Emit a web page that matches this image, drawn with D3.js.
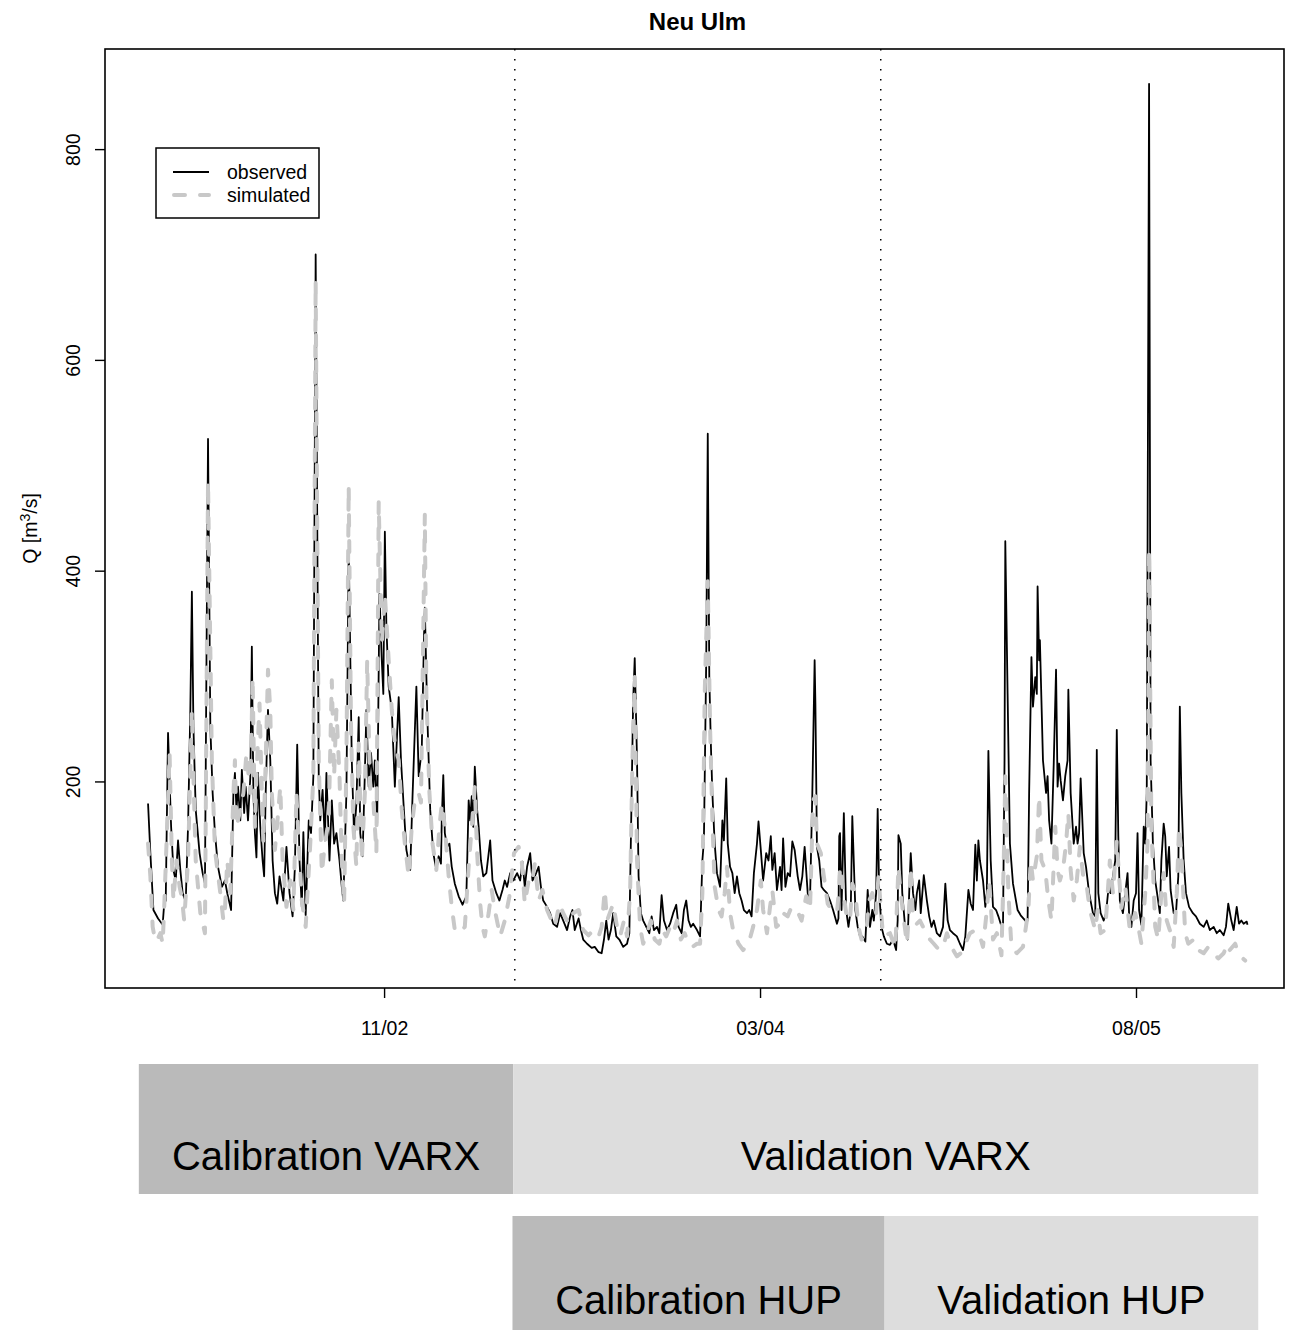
<!DOCTYPE html>
<html>
<head>
<meta charset="utf-8">
<title>Neu Ulm</title>
<script src="https://cdn.jsdelivr.net/npm/d3@7/dist/d3.min.js"></script>
<style>
  html, body { margin: 0; padding: 0; background: #fff; }
  svg { display: block; font-family: "Liberation Sans", Arial, Helvetica, sans-serif; }
</style>
</head>
<body>
<svg id="chart" width="1291" height="1330"></svg>
<script>
// Daily discharge at Neu Ulm, day index counted from the first record.
const obsDay = [0,3,7,13,19,21,23,26,30,33,36,39,42,45,49,52,55,57,59,62,67,71,74,76,78,81,84,87,91,96,100,103,108,111,113,115,117,120,122,125,127,130,133,135,137,139,141,143,146,149,151,153,156,159,162,165,168,171,176,180,184,188,191,194,197,200,202,205,209,212,215,218,222,224,227,230,232,236,239,242,245,249,252,254,258,261,265,268,271,274,276,279,282,284,287,290,293,295,298,301,304,306,308,310,313,317,321,326,329,333,336,341,344,349,352,356,359,360,363,367,371,375,378,381,382,384,386,389,392,395,399,404,409,414,417,419,421,423,425,428,430,433,436,440,445,448,453,457,461,464,467,471,475,480,484,487,490,493,497,500,503,508,511,514,519,523,527,532,536,540,545,549,552,555,560,563,566,571,577,581,586,590,593,596,599,602,605,609,613,618,623,626,629,631,633,636,638,641,644,648,652,655,658,662,665,668,671,675,679,683,687,690,694,697,700,703,706,709,714,718,721,723,726,728,730,732,734,737,740,744,747,749,752,754,757,760,763,766,769,772,775,779,782,785,788,792,794,797,800,804,807,810,812,815,818,822,824,826,829,832,835,838,841,845,848,851,854,858,861,864,867,868,870,873,876,879,883,887,891,896,898,899,900,902,905,908,911,914,916,920,923,926,929,933,936,939,942,944,947,949,951,954,957,961,965,969,973,975,976,979,981,985,988,990,992,995,998,1000,1003,1005,1009,1013,1016,1019,1022,1026,1030,1034,1037,1040,1043,1047,1052,1056,1060,1063,1067,1070,1073,1076,1078,1080,1082,1086,1089,1091,1093,1096,1099,1103,1106,1109,1112,1114,1115,1118,1121,1125,1131,1135,1141,1144,1146,1149,1151,1154,1156,1157,1159,1160,1162,1164,1168,1170,1172,1175,1178,1181,1183,1185,1187,1190,1193,1196,1197,1200,1204,1207,1209,1211,1213,1217,1220,1224,1229,1232,1234,1236,1239,1243,1246,1249,1252,1255,1258,1260,1262,1264,1268,1271,1274,1276,1279,1282,1285,1287,1289,1292,1295,1297,1299,1302,1304,1307,1310,1313,1316,1318,1321,1323,1325,1328,1330,1334,1337,1340,1342,1344,1347,1350,1354,1359,1363,1368,1373,1377,1381,1386,1390,1394,1399,1402,1405,1409,1412,1416,1419,1422,1425,1429,1430];
const obsQ = [179,132,78,70,64,84,87,246,157,116,106,144,116,94,86,157,268,380,252,173,132,113,103,315,525,252,189,151,119,100,106,94,78,189,208,173,195,163,211,170,195,163,204,328,189,151,128,208,157,125,110,189,268,220,125,94,84,110,87,138,94,72,119,235,125,81,152,73,163,151,205,700,205,163,192,144,208,125,182,141,151,125,100,87,189,420,220,148,179,261,151,129,208,268,195,227,195,220,160,378,315,283,437,347,290,268,195,280,220,170,135,116,186,290,205,230,340,365,268,173,132,116,129,122,163,206,151,138,141,119,103,91,83,91,182,163,186,157,214,173,157,125,110,113,144,106,94,87,97,106,100,113,106,113,106,124,100,119,132,106,110,119,100,87,81,75,65,62,75,68,59,72,78,59,70,59,50,46,42,43,38,37,50,68,50,59,75,53,50,43,46,56,189,277,317,220,110,75,68,62,56,72,59,62,56,92,68,59,65,75,83,62,56,78,87,68,62,65,59,53,125,144,315,530,299,236,189,141,113,100,163,144,203,141,119,113,94,110,94,87,78,75,78,72,113,141,162,135,106,132,125,148,116,132,97,119,97,146,100,113,110,143,135,110,97,110,138,94,87,189,315,274,138,125,100,97,94,87,78,65,70,148,151,78,170,78,62,78,167,78,62,53,53,48,97,62,78,68,94,174,94,62,53,46,45,50,40,68,149,141,94,59,50,94,132,94,78,94,106,75,111,87,72,62,68,56,53,62,103,68,59,56,53,46,40,53,97,84,78,140,106,144,125,106,81,94,229,125,81,78,72,65,62,220,428,283,141,103,78,73,68,68,189,318,271,299,283,385,315,334,277,220,189,205,163,141,217,306,195,217,201,182,205,220,287,189,141,157,141,151,203,132,119,94,75,72,230,94,75,68,75,97,94,110,125,249,148,87,75,94,113,75,62,87,94,151,78,64,157,141,189,862,220,141,106,91,75,125,160,148,110,138,97,75,75,110,271,189,125,94,81,75,72,65,62,68,59,62,56,59,54,62,84,68,59,81,65,68,65,67,64];

const simDay = [0,3,6,9,11,16,19,21,24,28,31,33,37,41,44,47,52,57,59,62,65,68,74,78,83,87,94,98,100,103,107,111,113,115,120,124,128,133,136,139,141,145,148,150,153,156,159,161,165,168,172,175,180,185,189,193,196,200,205,211,215,218,222,226,230,235,239,242,245,249,252,255,258,261,264,267,271,274,278,282,285,289,293,297,300,304,308,313,317,321,326,330,334,339,343,347,352,355,360,362,366,370,375,379,382,386,391,395,399,405,412,417,421,425,428,432,435,438,443,447,451,458,464,470,476,482,486,490,495,499,503,508,513,519,525,529,535,540,547,553,560,566,573,579,586,590,594,597,605,610,614,619,623,627,630,633,636,640,644,649,654,659,665,669,674,679,683,688,693,698,703,708,714,718,721,724,728,731,734,737,742,746,750,753,757,761,768,774,781,787,792,797,800,805,809,812,817,822,826,832,837,844,850,856,861,865,868,870,875,879,884,889,896,899,900,904,909,913,916,920,924,928,934,938,942,947,950,953,956,965,972,976,979,982,987,990,992,995,1000,1004,1008,1014,1017,1022,1029,1034,1039,1045,1052,1057,1063,1069,1076,1082,1086,1091,1094,1099,1104,1110,1113,1115,1119,1123,1130,1138,1145,1148,1151,1156,1159,1162,1167,1171,1175,1180,1183,1186,1190,1194,1197,1200,1204,1208,1212,1217,1221,1225,1232,1235,1239,1245,1251,1255,1260,1263,1266,1271,1277,1284,1288,1292,1297,1300,1302,1305,1310,1314,1318,1321,1325,1329,1334,1338,1341,1344,1349,1353,1360,1366,1373,1379,1386,1392,1399,1404,1407,1414,1418,1424,1427];
const simQ = [141,110,62,50,48,56,46,80,141,227,125,87,125,100,90,68,125,268,205,125,100,75,56,485,220,135,94,68,78,125,94,189,220,157,173,189,227,189,299,157,205,274,189,141,220,306,267,189,135,160,195,125,81,106,78,189,141,87,62,141,205,675,220,113,141,163,296,205,268,205,125,84,220,480,252,157,119,236,125,189,315,189,182,132,465,331,378,315,268,236,220,173,141,110,157,182,189,180,453,283,189,141,116,157,179,157,110,81,59,56,62,119,157,195,132,84,62,53,75,97,78,53,68,91,132,138,125,84,106,103,122,87,97,78,68,62,84,75,65,75,78,59,54,59,53,62,97,68,84,62,53,68,53,94,220,299,125,62,46,56,68,50,46,59,53,62,56,68,50,56,46,43,46,46,94,283,390,252,163,100,78,72,94,119,75,59,46,40,46,62,78,106,78,56,81,97,62,65,75,72,81,78,68,91,78,182,186,141,132,110,84,78,75,100,119,97,70,68,103,94,62,50,56,87,94,75,110,81,53,56,42,119,94,75,46,78,119,68,65,68,62,56,50,46,40,43,56,43,34,37,46,56,59,53,43,78,106,50,56,35,125,205,94,43,37,43,78,125,106,129,186,125,116,87,68,157,116,106,116,141,170,116,87,106,138,106,100,78,59,78,56,59,125,94,144,110,80,100,59,75,62,46,94,141,420,157,62,50,94,113,68,59,43,94,157,132,56,46,50,40,37,43,37,32,37,46,40,46,37,32,30];

// Axis ticks (values and labels)
const yTicks = [200, 400, 600, 800];
const xTickDays = [307, 796, 1285];
const xTickLabels = ["11/02", "03/04", "08/05"];

// Period boundaries (day index) and labels for the two model schemes
const splitDays = [477, 953];
const varxBounds = [-12, 475, 1444];
const varxLabels = ["Calibration VARX", "Validation VARX"];
const hupBounds = [474, 958, 1444];
const hupLabels = ["Calibration HUP", "Validation HUP"];

const svg = d3.select("#chart");
const plot = { left: 105, right: 1284, top: 49, bottom: 988 };
const smallFont = 19.5;

const x = d3.scaleLinear().domain([-56, 1477.5]).range([plot.left, plot.right]);
const y = d3.scaleLinear().domain([4, 895]).range([plot.bottom, plot.top]);

svg.append("defs").append("clipPath").attr("id", "plotClip")
  .append("rect")
  .attr("x", plot.left).attr("y", plot.top)
  .attr("width", plot.right - plot.left).attr("height", plot.bottom - plot.top);

// Title
svg.append("text")
  .attr("x", (plot.left + plot.right) / 2 + 3).attr("y", 30)
  .attr("text-anchor", "middle")
  .attr("font-size", 24).attr("font-weight", "bold")
  .text("Neu Ulm");

const lines = svg.append("g").attr("clip-path", "url(#plotClip)");

const obsData = obsDay.map((d, i) => [d, obsQ[i]]);
const simData = simDay.map((d, i) => [d, simQ[i]]);
const line = d3.line().x(d => x(d[0])).y(d => y(d[1]));

lines.append("path").datum(obsData)
  .attr("d", line).attr("fill", "none")
  .attr("stroke", "#000").attr("stroke-width", 1.8)
  .attr("stroke-linejoin", "round");

lines.append("path").datum(simData)
  .attr("d", line).attr("fill", "none")
  .attr("stroke", "#c8c8c8").attr("stroke-width", 4)
  .attr("stroke-dasharray", "11,15").attr("stroke-linecap", "round")
  .attr("stroke-linejoin", "round");

// Dotted separators between calibration and validation periods
svg.append("g").selectAll("line").data(splitDays).join("line")
  .attr("x1", d => x(d)).attr("x2", d => x(d))
  .attr("y1", plot.top).attr("y2", plot.bottom)
  .attr("stroke", "#000").attr("stroke-width", 1.5)
  .attr("stroke-dasharray", "1.5,8.5");

// Frame
svg.append("rect")
  .attr("x", plot.left).attr("y", plot.top)
  .attr("width", plot.right - plot.left).attr("height", plot.bottom - plot.top)
  .attr("fill", "none").attr("stroke", "#000").attr("stroke-width", 1.6);

// Y axis
const yAxis = svg.append("g")
  .attr("transform", `translate(${plot.left},0)`)
  .call(d3.axisLeft(y).tickValues(yTicks).tickSize(10).tickFormat(d3.format("d")));
yAxis.select(".domain").remove();
yAxis.selectAll(".tick line").attr("stroke-width", 1.4);
yAxis.selectAll(".tick text")
  .attr("font-size", smallFont).attr("font-family", null)
  .attr("transform", "rotate(-90)")
  .attr("x", 0).attr("y", -25).attr("dy", 0)
  .attr("text-anchor", "middle");

// X axis
const xAxis = svg.append("g")
  .attr("transform", `translate(0,${plot.bottom})`)
  .call(d3.axisBottom(x).tickValues(xTickDays).tickSize(10).tickPadding(23)
    .tickFormat((d, i) => xTickLabels[i]));
xAxis.select(".domain").remove();
xAxis.selectAll(".tick line").attr("stroke-width", 1.4);
xAxis.selectAll(".tick text").attr("font-size", smallFont).attr("font-family", null);

// Y axis title
const yTitle = svg.append("text")
  .attr("transform", `translate(37,${(plot.top + plot.bottom) / 2 + 10}) rotate(-90)`)
  .attr("text-anchor", "middle").attr("font-size", smallFont);
yTitle.append("tspan").text("Q [m");
yTitle.append("tspan").attr("font-size", 14).attr("dy", -7).text("3");
yTitle.append("tspan").attr("dy", 7).text("/s]");

// Legend
const legend = svg.append("g");
legend.append("rect")
  .attr("x", 156).attr("y", 148).attr("width", 163).attr("height", 70)
  .attr("fill", "#fff").attr("stroke", "#000").attr("stroke-width", 1.5);
const legendItems = [
  { label: "observed", color: "#000", width: 1.8, dash: null, cap: "butt" },
  { label: "simulated", color: "#c8c8c8", width: 4, dash: "11,15", cap: "round" }
];
legendItems.forEach((it, i) => {
  const ly = 172 + i * 23;
  legend.append("line")
    .attr("x1", it.cap === "round" ? 174 : 173).attr("x2", 209)
    .attr("y1", ly).attr("y2", ly)
    .attr("stroke", it.color).attr("stroke-width", it.width)
    .attr("stroke-dasharray", it.dash).attr("stroke-linecap", it.cap);
  legend.append("text")
    .attr("x", 227).attr("y", ly + 7)
    .attr("font-size", smallFont).text(it.label);
});

// Period bars underneath the hydrograph
const periodColors = ["#bababa", "#dddddd"];
function periodRow(bounds, labels, top, height, baseline) {
  const g = svg.append("g");
  labels.forEach((lab, i) => {
    const x0 = x(bounds[i]), x1 = x(bounds[i + 1]);
    g.append("rect")
      .attr("x", x0).attr("y", top).attr("width", x1 - x0).attr("height", height)
      .attr("fill", periodColors[i]);
    g.append("text")
      .attr("x", (x0 + x1) / 2).attr("y", baseline)
      .attr("text-anchor", "middle").attr("font-size", 40)
      .text(lab);
  });
}
periodRow(varxBounds, varxLabels, 1064, 130, 1170);
periodRow(hupBounds, hupLabels, 1216, 130, 1314);
</script>
</body>
</html>
